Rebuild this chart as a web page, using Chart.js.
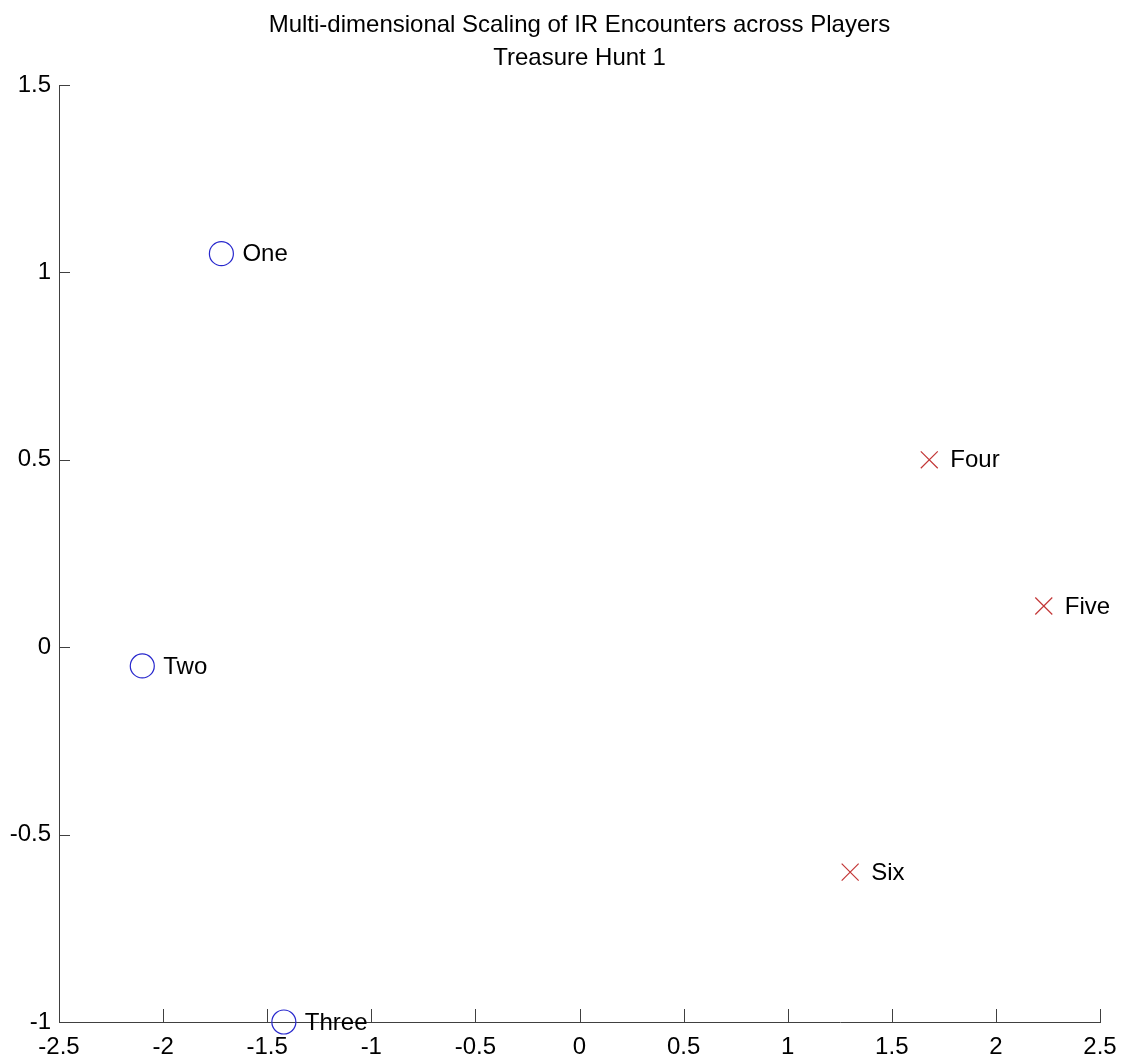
<!DOCTYPE html>
<html>
<head>
<meta charset="utf-8">
<script src="https://cdn.jsdelivr.net/npm/chart.js@4/dist/chart.umd.min.js"></script>
<style>
  html, body { margin: 0; padding: 0; background: #ffffff; }
  canvas { display: block; }
</style>
</head>
<body>
<canvas id="mds" width="1131" height="1061"></canvas>
<script>
// Players plotted with circles (group A) and crosses (group B)
const groupANames = ['One', 'Two', 'Three'];
const groupAX = [-1.72, -2.10, -1.42];
const groupAY = [1.05, -0.05, -1.00];

const groupBNames = ['Four', 'Five', 'Six'];
const groupBX = [1.68, 2.23, 1.30];
const groupBY = [0.50, 0.11, -0.60];

// Axis ranges and tick spacing
const xRange = [-2.5, 2.5];
const yRange = [-1, 1.5];
const tickStep = 0.5;

const titleLines = ['Multi-dimensional Scaling of IR Encounters across Players', 'Treasure Hunt 1'];

// Prefer the narrow face (tall, condensed lettering); fall back to the regular face
const probe = document.createElement('canvas').getContext('2d');
probe.font = "40px 'Liberation Sans Narrow', monospace";
const wNarrow = probe.measureText('Multi-dimensional Scaling').width;
probe.font = '40px monospace';
const wMono = probe.measureText('Multi-dimensional Scaling').width;
const hasNarrow = Math.abs(wNarrow - wMono) > 1;
const FONT = hasNarrow ? "'Liberation Sans Narrow', Arial, sans-serif" : "'Liberation Sans', Arial, sans-serif";
const FSIZE = hasNarrow ? 28 : 24;
const AXIS_COLOR = '#404040';

function toPoints(xs, ys, names) {
  return xs.map((x, i) => ({ x: x, y: ys[i], name: names[i] }));
}

function fmt(v) {
  return String(Math.round(v * 10) / 10);
}

// Tick marks pointing into the plot area
const inwardTicks = {
  id: 'inwardTicks',
  afterDraw(chart) {
    const { ctx, chartArea, scales } = chart;
    ctx.save();
    ctx.strokeStyle = AXIS_COLOR;
    ctx.lineWidth = 1;
    ctx.beginPath();
    scales.x.ticks.forEach(t => {
      const px = Math.round(scales.x.getPixelForValue(t.value)) + 0.5;
      ctx.moveTo(px, chartArea.bottom);
      ctx.lineTo(px, chartArea.bottom - 13);
    });
    scales.y.ticks.forEach(t => {
      const py = Math.round(scales.y.getPixelForValue(t.value)) + 0.5;
      ctx.moveTo(chartArea.left, py);
      ctx.lineTo(chartArea.left + 11, py);
    });
    ctx.stroke();
    ctx.restore();
  }
};

// Name label to the right of every marker
const pointNames = {
  id: 'pointNames',
  afterDatasetsDraw(chart) {
    const { ctx } = chart;
    ctx.save();
    ctx.font = FSIZE + 'px ' + FONT;
    ctx.fillStyle = '#000000';
    ctx.textAlign = 'left';
    ctx.textBaseline = 'middle';
    chart.data.datasets.forEach((ds, di) => {
      const meta = chart.getDatasetMeta(di);
      meta.data.forEach((el, i) => {
        ctx.fillText(ds.data[i].name, el.x + 21, el.y + 1);
      });
    });
    ctx.restore();
  }
};

new Chart(document.getElementById('mds'), {
  type: 'scatter',
  data: {
    datasets: [
      {
        label: 'Group A',
        data: toPoints(groupAX, groupAY, groupANames),
        pointStyle: 'circle',
        pointRadius: 12,
        pointHoverRadius: 12,
        borderColor: 'rgb(40, 40, 205)',
        backgroundColor: 'rgba(0,0,0,0)',
        borderWidth: 1.2,
        clip: false
      },
      {
        label: 'Group B',
        data: toPoints(groupBX, groupBY, groupBNames),
        pointStyle: 'crossRot',
        pointRadius: 12,
        pointHoverRadius: 12,
        borderColor: 'rgb(195, 55, 55)',
        backgroundColor: 'rgba(0,0,0,0)',
        borderWidth: 1.2,
        clip: false
      }
    ]
  },
  options: {
    responsive: false,
    animation: false,
    layout: { padding: { top: 0, right: 31, bottom: 0, left: 0 } },
    plugins: {
      legend: { display: false },
      tooltip: { enabled: false },
      title: {
        display: true,
        text: titleLines,
        fullSize: false,
        color: '#000000',
        font: { family: FONT, size: FSIZE, weight: 'normal', lineHeight: 33 / FSIZE },
        padding: { top: 9, bottom: 10 }
      }
    },
    scales: {
      x: {
        type: 'linear',
        min: xRange[0],
        max: xRange[1],
        afterFit(s) { s.height = 39; },
        grid: { display: false, drawTicks: false },
        border: { display: true, color: AXIS_COLOR, width: 1 },
        ticks: {
          stepSize: tickStep,
          padding: 11,
          color: '#000000',
          font: { family: FONT, size: FSIZE },
          maxRotation: 0,
          autoSkip: false,
          callback: v => fmt(v)
        }
      },
      y: {
        type: 'linear',
        min: yRange[0],
        max: yRange[1],
        afterFit(s) { s.width = 59; },
        grid: { display: false, drawTicks: false },
        border: { display: true, color: AXIS_COLOR, width: 1 },
        ticks: {
          stepSize: tickStep,
          padding: 8,
          color: '#000000',
          font: { family: FONT, size: FSIZE },
          autoSkip: false,
          callback: v => fmt(v)
        }
      }
    }
  },
  plugins: [inwardTicks, pointNames]
});
</script>
</body>
</html>
